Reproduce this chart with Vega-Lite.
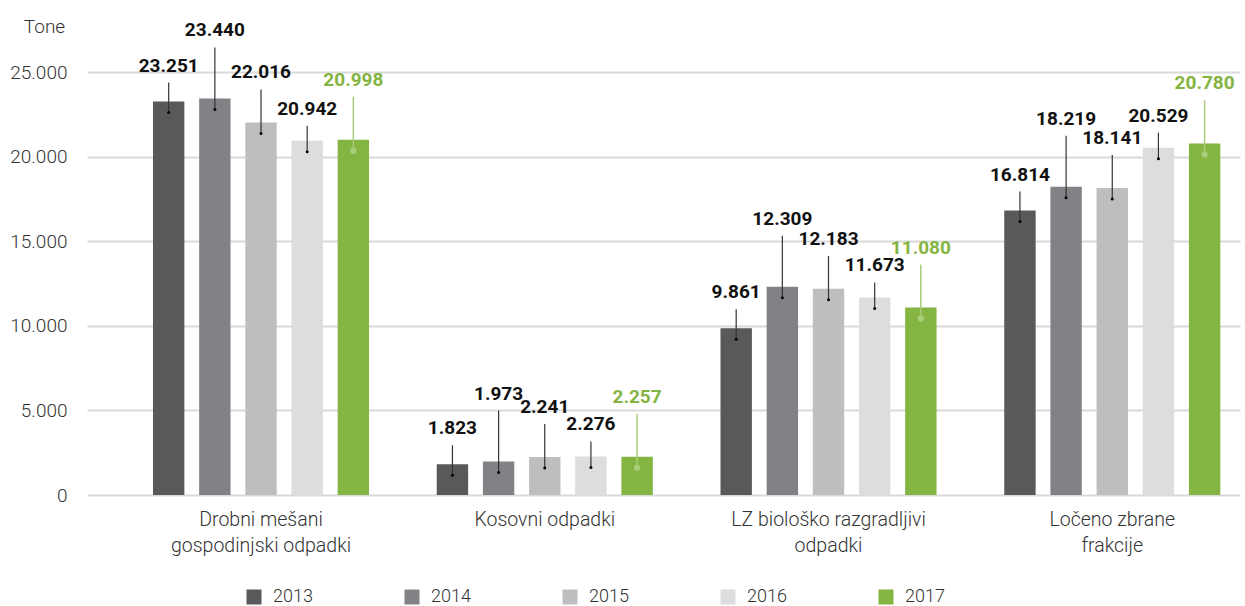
{
  "$schema": "https://vega.github.io/schema/vega-lite/v6.json",
  "width": 1153,
  "height": 423,
  "autosize": "none",
  "padding": {"left": 87, "top": 72, "right": 5, "bottom": 111},
  "background": "white",
  "config": {
    "locale": {"number": {"decimal": ",", "thousands": ".", "grouping": [3], "currency": ["", " €"]}},
    "view": {"stroke": null},
    "font": "Roboto"
  },
  "data": {
    "values": [
      {"kategorija": "Drobni mešani gospodinjski odpadki", "leto": "2013", "tone": 23251},
      {"kategorija": "Drobni mešani gospodinjski odpadki", "leto": "2014", "tone": 23440},
      {"kategorija": "Drobni mešani gospodinjski odpadki", "leto": "2015", "tone": 22016},
      {"kategorija": "Drobni mešani gospodinjski odpadki", "leto": "2016", "tone": 20942},
      {"kategorija": "Drobni mešani gospodinjski odpadki", "leto": "2017", "tone": 20998},
      {"kategorija": "Kosovni odpadki", "leto": "2013", "tone": 1823},
      {"kategorija": "Kosovni odpadki", "leto": "2014", "tone": 1973},
      {"kategorija": "Kosovni odpadki", "leto": "2015", "tone": 2241},
      {"kategorija": "Kosovni odpadki", "leto": "2016", "tone": 2276},
      {"kategorija": "Kosovni odpadki", "leto": "2017", "tone": 2257},
      {"kategorija": "LZ biološko razgradljivi odpadki", "leto": "2013", "tone": 9861},
      {"kategorija": "LZ biološko razgradljivi odpadki", "leto": "2014", "tone": 12309},
      {"kategorija": "LZ biološko razgradljivi odpadki", "leto": "2015", "tone": 12183},
      {"kategorija": "LZ biološko razgradljivi odpadki", "leto": "2016", "tone": 11673},
      {"kategorija": "LZ biološko razgradljivi odpadki", "leto": "2017", "tone": 11080},
      {"kategorija": "Ločeno zbrane frakcije", "leto": "2013", "tone": 16814},
      {"kategorija": "Ločeno zbrane frakcije", "leto": "2014", "tone": 18219},
      {"kategorija": "Ločeno zbrane frakcije", "leto": "2015", "tone": 18141},
      {"kategorija": "Ločeno zbrane frakcije", "leto": "2016", "tone": 20529},
      {"kategorija": "Ločeno zbrane frakcije", "leto": "2017", "tone": 20780}
    ]
  },
  "encoding": {
    "x": {
      "field": "kategorija", "type": "nominal",
      "sort": ["Drobni mešani gospodinjski odpadki", "Kosovni odpadki", "LZ biološko razgradljivi odpadki", "Ločeno zbrane frakcije"],
      "scale": {"paddingInner": 0.2386, "paddingOuter": 0.151, "align": 0.77},
      "axis": {
        "title": null, "domain": false, "ticks": false,
        "labelFont": "Roboto", "labelFontSize": 19.5, "labelFontWeight": 300, "labelColor": "#333333",
        "labelPadding": 15, "labelLineHeight": 26, "labelBaseline": "top", "labelLimit": 400, "labelAngle": 0,
        "labelExpr": "datum.value == 'Drobni mešani gospodinjski odpadki' ? ['Drobni mešani', 'gospodinjski odpadki'] : datum.value == 'LZ biološko razgradljivi odpadki' ? ['LZ biološko razgradljivi', 'odpadki'] : datum.value == 'Ločeno zbrane frakcije' ? ['Ločeno zbrane', 'frakcije'] : datum.value"
      }
    },
    "xOffset": {"field": "leto", "type": "nominal", "scale": {"paddingInner": 0.32, "paddingOuter": 0}},
    "y": {
      "field": "tone", "type": "quantitative",
      "scale": {"domain": [0, 25000], "nice": false},
      "axis": {
        "title": "Tone", "titleAngle": 0, "titleX": -43, "titleY": -46, "titleAlign": "center", "titleBaseline": "middle",
        "titleFont": "Roboto", "titleFontSize": 19, "titleFontWeight": 300, "titleColor": "#333333",
        "values": [0, 5000, 10000, 15000, 20000, 25000], "format": ",d",
        "labelFont": "Roboto", "labelFontSize": 19, "labelFontWeight": 300, "labelColor": "#333333", "labelPadding": 20,
        "domain": false, "ticks": false, "grid": true, "gridColor": "#d9d9d9", "gridWidth": 2
      }
    }
  },
  "layer": [
    {
      "mark": {"type": "bar"},
      "encoding": {
        "color": {
          "field": "leto", "type": "nominal",
          "scale": {"domain": ["2013", "2014", "2015", "2016", "2017"], "range": ["#58595b", "#808285", "#bdbec0", "#dcdddf", "#84b441"]},
          "legend": {
            "title": null, "orient": "none", "legendX": 158, "legendY": 516, "direction": "horizontal", "columns": 5,
            "columnPadding": 90, "symbolType": "square", "symbolSize": 225, "symbolStrokeWidth": 0,
            "labelFont": "Roboto", "labelFontSize": 18, "labelFontWeight": 300, "labelColor": "#333333", "labelOffset": 10, "padding": 0
          }
        }
      }
    },
    {"transform": [{"filter": "datum.leto == '2013'"}], "mark": {"type": "rule", "yOffset": 11, "y2Offset": -19, "color": "#333333", "strokeWidth": 1.2}, "encoding": {"y2": {"field": "tone"}}},
    {"transform": [{"filter": "datum.leto == '2014'"}], "mark": {"type": "rule", "yOffset": 11, "y2Offset": -51, "color": "#333333", "strokeWidth": 1.2}, "encoding": {"y2": {"field": "tone"}}},
    {"transform": [{"filter": "datum.leto == '2015'"}], "mark": {"type": "rule", "yOffset": 11, "y2Offset": -33, "color": "#333333", "strokeWidth": 1.2}, "encoding": {"y2": {"field": "tone"}}},
    {"transform": [{"filter": "datum.leto == '2016'"}], "mark": {"type": "rule", "yOffset": 11, "y2Offset": -15, "color": "#333333", "strokeWidth": 1.2}, "encoding": {"y2": {"field": "tone"}}},
    {"transform": [{"filter": "datum.leto == '2017'"}], "mark": {"type": "rule", "yOffset": 11, "y2Offset": -43, "color": "#a8cd78", "strokeWidth": 1.5}, "encoding": {"y2": {"field": "tone"}}},
    {"transform": [{"filter": "datum.leto != '2017'"}], "mark": {"type": "point", "filled": true, "opacity": 1, "yOffset": 11, "size": 9, "color": "#000000"}},
    {"transform": [{"filter": "datum.leto == '2017'"}], "mark": {"type": "point", "filled": true, "opacity": 1, "yOffset": 11, "size": 40, "color": "#a8cd78"}},
    {"transform": [{"filter": "datum.leto == '2013'"}], "mark": {"type": "text", "dy": -36, "baseline": "middle", "font": "Roboto", "fontSize": 19, "fontWeight": "bold", "color": "#111111"}, "encoding": {"text": {"field": "tone", "type": "quantitative", "format": ",d"}}},
    {"transform": [{"filter": "datum.leto == '2014'"}], "mark": {"type": "text", "dy": -68, "baseline": "middle", "font": "Roboto", "fontSize": 19, "fontWeight": "bold", "color": "#111111"}, "encoding": {"text": {"field": "tone", "type": "quantitative", "format": ",d"}}},
    {"transform": [{"filter": "datum.leto == '2015'"}], "mark": {"type": "text", "dy": -50, "baseline": "middle", "font": "Roboto", "fontSize": 19, "fontWeight": "bold", "color": "#111111"}, "encoding": {"text": {"field": "tone", "type": "quantitative", "format": ",d"}}},
    {"transform": [{"filter": "datum.leto == '2016'"}], "mark": {"type": "text", "dy": -32, "baseline": "middle", "font": "Roboto", "fontSize": 19, "fontWeight": "bold", "color": "#111111"}, "encoding": {"text": {"field": "tone", "type": "quantitative", "format": ",d"}}},
    {"transform": [{"filter": "datum.leto == '2017'"}], "mark": {"type": "text", "dy": -60, "baseline": "middle", "font": "Roboto", "fontSize": 19, "fontWeight": "bold", "color": "#84b441"}, "encoding": {"text": {"field": "tone", "type": "quantitative", "format": ",d"}}}
  ]
}
